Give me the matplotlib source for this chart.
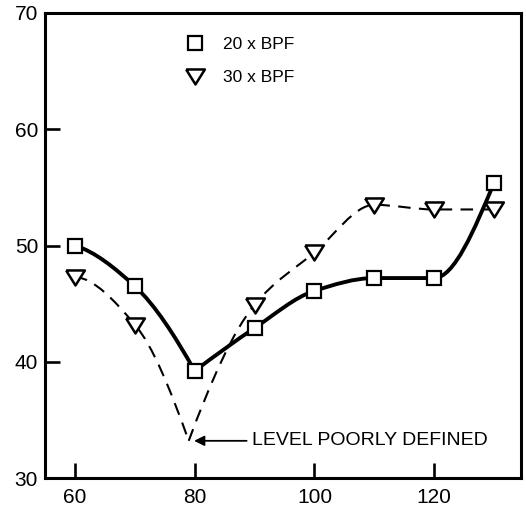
import numpy as np
import matplotlib
matplotlib.use("Agg")
import matplotlib.pyplot as plt
from matplotlib.path import Path
from matplotlib.patches import PathPatch
from matplotlib.lines import Line2D

plt.rcParams['font.family'] = ['Liberation Sans', 'DejaVu Sans']

# 20 x BPF series
x20 = [60, 70, 80, 90, 100, 110, 120, 130]
y20 = [50.0, 46.5, 39.2, 42.9, 46.1, 47.2, 47.2, 55.4]

# 30 x BPF series (the minimum near 79 is only poorly defined, no marker)
x30 = [60, 70, 90, 100, 110, 120, 130]
y30 = [47.3, 43.2, 44.9, 49.4, 53.5, 53.1, 53.1]
x30_min, y30_min = 79, 33.2

xticks = [60, 80, 100, 120]
yticks = [30, 40, 50, 60, 70]


def pchip_slopes(x, y):
    x = np.asarray(x, float)
    y = np.asarray(y, float)
    h = np.diff(x)
    d = np.diff(y) / h
    n = len(x)
    m = np.zeros(n)
    if n == 2:
        m[:] = d[0]
        return m
    for k in range(1, n - 1):
        if d[k - 1] * d[k] <= 0:
            m[k] = 0.0
        else:
            w1 = 2 * h[k] + h[k - 1]
            w2 = h[k] + 2 * h[k - 1]
            m[k] = (w1 + w2) / (w1 / d[k - 1] + w2 / d[k])

    def end(h0, h1, d0, d1):
        s = ((2 * h0 + h1) * d0 - h0 * d1) / (h0 + h1)
        if np.sign(s) != np.sign(d0):
            s = 0.0
        elif np.sign(d0) != np.sign(d1) and abs(s) > abs(3 * d0):
            s = 3 * d0
        return s

    m[0] = end(h[0], h[1], d[0], d[1])
    m[-1] = end(h[-1], h[-2], d[-1], d[-2])
    return m


def smooth_path(x, y):
    """Bezier path through the points with monotone Hermite tangents."""
    m = pchip_slopes(x, y)
    verts = [(x[0], y[0])]
    codes = [Path.MOVETO]
    for i in range(len(x) - 1):
        h = x[i + 1] - x[i]
        verts += [(x[i] + h / 3, y[i] + m[i] * h / 3),
                  (x[i + 1] - h / 3, y[i + 1] - m[i + 1] * h / 3),
                  (x[i + 1], y[i + 1])]
        codes += [Path.CURVE4] * 3
    return verts, codes


def curve(ax, pieces, **kw):
    verts, codes = [], []
    for xs, ys in pieces:
        v, c = smooth_path(xs, ys)
        verts += v
        codes += c
    patch = PathPatch(Path(verts, codes), fill=False, transform=ax.transData,
                      capstyle='butt', joinstyle='miter', **kw)
    ax.add_patch(patch)


fig = plt.figure(figsize=(5.26, 5.15), dpi=100)
ax = fig.add_axes([0.0856, 0.0718, 0.9049, 0.903])

# solid curve: two smooth branches meeting at the 80 minimum
i80 = x20.index(80)
curve(ax, [(x20[:i80 + 1], y20[:i80 + 1]), (x20[i80:], y20[i80:])],
      color='black', lw=2.8, zorder=2)

# dashed curve: two branches meeting in a cusp at the poorly defined minimum
xa = x30[:2] + [x30_min]
ya = y30[:2] + [y30_min]
xb = [x30_min] + x30[2:]
yb = [y30_min] + y30[2:]
curve(ax, [(xa, ya), (xb, yb)], color='black', lw=1.5,
      linestyle=(0, (6, 4)), zorder=2)

tri = [(-1.0, 0.75), (1.0, 0.75), (0.0, -0.85), (-1.0, 0.75)]
ax.plot(x20, y20, linestyle='none', marker='s', ms=10.5, mfc='white',
        mec='black', mew=1.6, zorder=4)
ax.plot(x30, y30, linestyle='none', marker=tri, ms=13.5, mfc='white',
        mec='black', mew=1.8, zorder=3)

ax.annotate('LEVEL POORLY DEFINED', xy=(79.9, 33.2), xytext=(89.6, 33.2),
            fontsize=14, va='center', ha='left',
            arrowprops=dict(arrowstyle='-|>', color='black', lw=1.3,
                            mutation_scale=15, shrinkA=2, shrinkB=0))

handles = [Line2D([], [], linestyle='none', marker='s', ms=10.5, mfc='white',
                  mec='black', mew=1.6),
           Line2D([], [], linestyle='none', marker=tri, ms=13.5, mfc='white',
                  mec='black', mew=1.8)]
ax.legend(handles, ['20 x BPF', '30 x BPF'], loc='upper left',
          bbox_to_anchor=(0.282, 0.963), frameon=False, fontsize=12.5,
          handlelength=1.0, handletextpad=1.1, labelspacing=1.0,
          borderaxespad=0)

ax.set_xlim(55, 134.5)
ax.set_ylim(30, 70)
ax.set_xticks(xticks)
ax.set_yticks(yticks)
ax.tick_params(direction='in', length=11, width=1.9, labelsize=15, pad=5)
ax.tick_params(axis='x', pad=7)
for s in ax.spines.values():
    s.set_linewidth(2.2)

fig.savefig('out.png', dpi=100)
